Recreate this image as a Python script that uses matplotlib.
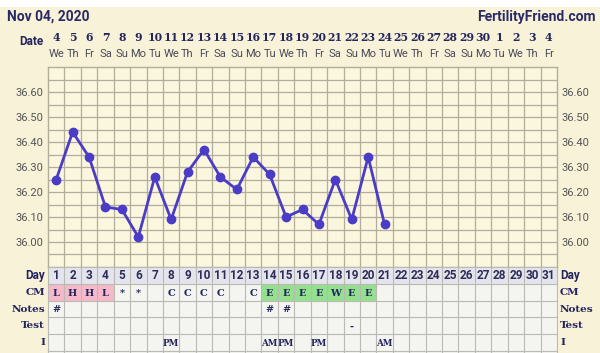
import numpy as np
import matplotlib.pyplot as plt
import matplotlib.transforms as mtransforms
from matplotlib.patches import Rectangle

# chart data
cycle_days = list(range(1, 32))
dates = [4, 5, 6, 7, 8, 9, 10, 11, 12, 13, 14, 15, 16, 17, 18, 19, 20,
         21, 22, 23, 24, 25, 26, 27, 28, 29, 30, 1, 2, 3, 4]
weekdays = ['We', 'Th', 'Fr', 'Sa', 'Su', 'Mo', 'Tu', 'We', 'Th', 'Fr', 'Sa',
            'Su', 'Mo', 'Tu', 'We', 'Th', 'Fr', 'Sa', 'Su', 'Mo', 'Tu', 'We',
            'Th', 'Fr', 'Sa', 'Su', 'Mo', 'Tu', 'We', 'Th', 'Fr']
temp_days = list(range(1, 22))
temps = [36.25, 36.44, 36.34, 36.14, 36.13, 36.02, 36.26, 36.09, 36.28, 36.37,
         36.26, 36.21, 36.34, 36.27, 36.10, 36.13, 36.07, 36.25, 36.09, 36.34,
         36.07]
cm = ['L', 'H', 'H', 'L', '*', '*', '', 'C', 'C', 'C', 'C', '', 'C', 'E', 'E',
      'E', 'E', 'W', 'E', 'E']
cm_pink = [1, 2, 3, 4]
cm_green = [14, 15, 16, 17, 18, 19, 20]
notes = {1: '#', 14: '#', 15: '#'}
tests = {19: '-'}
intercourse = {8: 'PM', 14: 'AM', 15: 'PM', 17: 'PM', 21: 'AM'}
row_labels = ['Day', 'CM', 'Notes', 'Test', 'I']
ytick_vals = [36.00, 36.10, 36.20, 36.30, 36.40, 36.50, 36.60]

BG = '#f8f2d8'
PLOT_BG = '#fbf6de'
GRID = '#b3ae9c'
NAVY = '#25255e'
LINE = '#4a3cc6'
W, H = 600, 353


def fx(px):
    return px / W


def fy(py):
    return 1 - py / H


fig = plt.figure(figsize=(6, 3.53), dpi=100, facecolor=BG)
fig.patches.append(Rectangle((0, fy(7)), 1, 7 / H, transform=fig.transFigure,
                             facecolor='white', edgecolor='none'))

# temperature chart
ax = fig.add_axes([fx(48), fy(267), (557 - 48) / W, (267 - 67) / H])
ax.set_facecolor(PLOT_BG)
ax.set_xlim(0.5, 31.5)
ax.set_ylim(35.90, 36.70)
for x in np.arange(1.5, 31.5, 1):
    ax.axvline(x, color=GRID, lw=0.9, zorder=1)
for y in np.arange(35.95, 36.69, 0.05):
    ax.axhline(y, color=GRID, lw=0.9, zorder=1)
for s in ax.spines.values():
    s.set_color(GRID)
    s.set_linewidth(1.0)
ax.set_xticks([])
ax.set_yticks(ytick_vals)
ax.set_yticklabels([f'{v:.2f}' for v in ytick_vals], fontfamily='Roboto')
ax.tick_params(axis='y', length=0, labelsize=8, labelcolor='#555555',
               labelright=True, pad=3)
ax.plot(temp_days, temps, color=LINE, lw=2, marker='o', ms=6, zorder=3)

# date header
tr = mtransforms.blended_transform_factory(ax.transData, fig.transFigure)
for d, num, wd in zip(cycle_days, dates, weekdays):
    ax.text(d, fy(37.5), str(num), transform=tr, ha='center', va='center',
            fontfamily='DejaVu Serif', fontweight='bold', fontsize=7.8,
            color=NAVY)
    ax.text(d, fy(54), wd, transform=tr, ha='center', va='center',
            fontfamily='Roboto', fontsize=8, color='#4a4a5a')
fig.text(fx(43), fy(41.5), 'Date', ha='right', va='center', fontfamily='Roboto',
         fontweight='bold', fontsize=8.5, color=NAVY)
fig.text(fx(7), fy(16.5), 'Nov 04, 2020', ha='left', va='center',
         fontfamily='Roboto', fontweight='bold', fontsize=10, color='#2a2a66')
fig.text(fx(596), fy(16.5), 'FertilityFriend.com', ha='right', va='center',
         fontfamily='Roboto', fontweight='bold', fontsize=10, color='#2a2a66')

# observation table
RH = 16.8
tax = fig.add_axes([fx(48), 0, (557 - 48) / W, 86 / H])
tax.set_xlim(0.5, 31.5)
tax.set_ylim(86 / RH, 0)
tax.set_axis_off()
for d in cycle_days:
    tax.add_patch(Rectangle((d - 0.5, 0), 1, 1, facecolor='#e4e4ee',
                            edgecolor='none'))
    tax.add_patch(Rectangle((d - 0.5, 1), 1, 5, facecolor='#f4f4f0',
                            edgecolor='none'))
for d in cm_pink:
    tax.add_patch(Rectangle((d - 0.5, 1), 1, 1, facecolor='#f5b9c9',
                            edgecolor='none'))
for d in cm_green:
    tax.add_patch(Rectangle((d - 0.5, 1), 1, 1, facecolor='#93e08e',
                            edgecolor='none'))
for x in np.arange(0.5, 32, 1):
    tax.plot([x, x], [0, 6], color='#bbbab2', lw=0.8, clip_on=False)
for y in range(0, 6):
    tax.plot([0.5, 31.5], [y, y], color='#bbbab2', lw=0.8, clip_on=False)

serif = dict(fontfamily='DejaVu Serif', fontweight='bold', fontsize=7,
             color=NAVY, ha='center', va='center')
for d in cycle_days:
    tax.text(d, 0.5, str(d), ha='center', va='center', fontfamily='Roboto',
             fontweight='bold', fontsize=8.5, color='#2d2d55')
for d, c in zip(cycle_days, cm):
    if c:
        tax.text(d, 1.55, c, **serif)
for d, t in notes.items():
    tax.text(d, 2.55, t, **serif)
for d, t in tests.items():
    tax.text(d, 3.5, t, **serif)
for d, t in intercourse.items():
    tax.text(d, 4.55, t, **{**serif, 'fontsize': 6.3})

for i, lab in enumerate(row_labels):
    yc = 267 + RH * (i + 0.5)
    fam = 'Roboto' if lab == 'Day' else 'DejaVu Serif'
    fs = 8.5 if lab == 'Day' else 7.5
    fig.text(fx(45), fy(yc), lab, ha='right', va='center', fontfamily=fam,
             fontweight='bold', fontsize=fs, color=NAVY)
    fig.text(fx(560), fy(yc), lab, ha='left', va='center', fontfamily=fam,
             fontweight='bold', fontsize=fs, color=NAVY)

fig.savefig('out.png', dpi=100, facecolor=BG)
